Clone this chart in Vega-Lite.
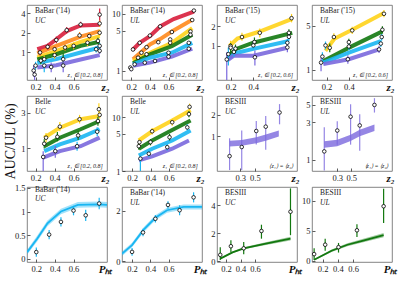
{
"$schema":"https://vega.github.io/schema/vega-lite/v6.json",
"padding":{"left":2,"top":4,"right":0,"bottom":0},
"background":"white",
"config":{
 "view":{"stroke":"#666","strokeWidth":0.8},
 "font":"Liberation Serif",
 "axis":{"grid":false,"domain":false,"tickSize":-3,"tickColor":"#333","tickWidth":0.8,"labelFont":"Liberation Serif","labelFontSize":8.5,"labelColor":"#1a1a1a","labelPadding":5,"labelOverlap":false,"labelFlush":false,"labelBound":false,"format":"~r","titleFont":"Liberation Serif","titleColor":"#111"},
 "axisX":{"titleFontSize":11,"titleFontStyle":"italic","titleFontWeight":"bold","titleAlign":"right","titleX":82,"titleY":1,"titleBaseline":"top"},
 "title":{"font":"Liberation Serif","fontSize":7.5,"fontWeight":"normal","anchor":"start","frame":"group","orient":"top","offset":0,"dx":8,"dy":23,"color":"#222","subtitleFont":"Liberation Serif","subtitleFontSize":7.5,"subtitleFontStyle":"italic","subtitleColor":"#222","subtitlePadding":2}
},
"datasets":{
"band":[
{"p":1,"c":"r","x":0.218,"y":1.12},{"p":1,"c":"r","x":0.327,"y":1.26},{"p":1,"c":"r","x":0.418,"y":1.59},{"p":1,"c":"r","x":0.527,"y":2.12},{"p":1,"c":"r","x":0.673,"y":2.58},{"p":1,"c":"r","x":0.873,"y":2.64},
{"p":1,"c":"o","x":0.218,"y":0.97},{"p":1,"c":"o","x":0.418,"y":1.26},{"p":1,"c":"o","x":0.673,"y":1.74},{"p":1,"c":"o","x":0.873,"y":2.12},
{"p":1,"c":"y","x":0.218,"y":0.84},{"p":1,"c":"y","x":0.418,"y":1.06},{"p":1,"c":"y","x":0.673,"y":1.45},{"p":1,"c":"y","x":0.873,"y":1.78},
{"p":1,"c":"g","x":0.218,"y":0.78},{"p":1,"c":"g","x":0.418,"y":0.94},{"p":1,"c":"g","x":0.673,"y":1.26},{"p":1,"c":"g","x":0.873,"y":1.46},
{"p":1,"c":"b","x":0.218,"y":0.69},{"p":1,"c":"b","x":0.418,"y":0.79},{"p":1,"c":"b","x":0.673,"y":1.0},{"p":1,"c":"b","x":0.873,"y":1.19},
{"p":1,"c":"p","x":0.218,"y":0.59},{"p":1,"c":"p","x":0.418,"y":0.64},{"p":1,"c":"p","x":0.673,"y":0.78},{"p":1,"c":"p","x":0.873,"y":0.91},
{"p":2,"c":"r","x":0.218,"y":2.37},{"p":2,"c":"r","x":0.29,"y":3.1},{"p":2,"c":"r","x":0.4,"y":4.05},{"p":2,"c":"r","x":0.51,"y":6.0},{"p":2,"c":"r","x":0.655,"y":8.1},{"p":2,"c":"r","x":0.873,"y":10.9},
{"p":2,"c":"o","x":0.218,"y":1.59},{"p":2,"c":"o","x":0.4,"y":2.9},{"p":2,"c":"o","x":0.51,"y":3.6},{"p":2,"c":"o","x":0.636,"y":4.9},{"p":2,"c":"o","x":0.855,"y":7.85},
{"p":2,"c":"y","x":0.218,"y":1.49},{"p":2,"c":"y","x":0.4,"y":2.08},{"p":2,"c":"y","x":0.636,"y":3.1},{"p":2,"c":"y","x":0.855,"y":5.6},
{"p":2,"c":"g","x":0.218,"y":1.36},{"p":2,"c":"g","x":0.4,"y":1.95},{"p":2,"c":"g","x":0.636,"y":2.7},{"p":2,"c":"g","x":0.855,"y":4.3},
{"p":2,"c":"b","x":0.218,"y":1.3},{"p":2,"c":"b","x":0.4,"y":1.7},{"p":2,"c":"b","x":0.636,"y":2.08},{"p":2,"c":"b","x":0.855,"y":3.1},
{"p":2,"c":"p","x":0.218,"y":1.22},{"p":2,"c":"p","x":0.4,"y":1.39},{"p":2,"c":"p","x":0.636,"y":1.77},{"p":2,"c":"p","x":0.855,"y":2.44},
{"p":3,"c":"y","x":0.19,"y":1.0},{"p":3,"c":"y","x":0.26,"y":1.3},{"p":3,"c":"y","x":0.45,"y":1.65},{"p":3,"c":"y","x":0.743,"y":2.6},
{"p":3,"c":"g","x":0.171,"y":0.67},{"p":3,"c":"g","x":0.25,"y":0.9},{"p":3,"c":"g","x":0.4,"y":1.12},{"p":3,"c":"g","x":0.743,"y":1.59},
{"p":3,"c":"b","x":0.171,"y":0.63},{"p":3,"c":"b","x":0.25,"y":0.78},{"p":3,"c":"b","x":0.4,"y":0.9},{"p":3,"c":"b","x":0.714,"y":1.19},
{"p":3,"c":"p","x":0.171,"y":0.6},{"p":3,"c":"p","x":0.229,"y":0.71},{"p":3,"c":"p","x":0.4,"y":0.71},{"p":3,"c":"p","x":0.7,"y":0.94},
{"p":4,"c":"y","x":0.19,"y":2.0},{"p":4,"c":"y","x":0.27,"y":3.1},{"p":4,"c":"y","x":0.43,"y":4.3},{"p":4,"c":"y","x":0.714,"y":7.9},
{"p":4,"c":"g","x":0.171,"y":1.38},{"p":4,"c":"g","x":0.429,"y":2.37},{"p":4,"c":"g","x":0.7,"y":4.06},
{"p":4,"c":"b","x":0.171,"y":1.3},{"p":4,"c":"b","x":0.4,"y":1.87},{"p":4,"c":"b","x":0.686,"y":2.84},
{"p":4,"c":"p","x":0.171,"y":1.23},{"p":4,"c":"p","x":0.4,"y":1.47},{"p":4,"c":"p","x":0.671,"y":2.1},
{"p":5,"c":"y","x":0.291,"y":1.39},{"p":5,"c":"y","x":0.455,"y":1.89},{"p":5,"c":"y","x":0.673,"y":2.45},{"p":5,"c":"y","x":0.873,"y":2.7},
{"p":5,"c":"g","x":0.291,"y":1.07},{"p":5,"c":"g","x":0.455,"y":1.39},{"p":5,"c":"g","x":0.673,"y":1.8},{"p":5,"c":"g","x":0.873,"y":2.32},
{"p":5,"c":"b","x":0.291,"y":0.92},{"p":5,"c":"b","x":0.455,"y":1.13},{"p":5,"c":"b","x":0.673,"y":1.39},{"p":5,"c":"b","x":0.873,"y":1.8},
{"p":5,"c":"p","x":0.273,"y":0.75},{"p":5,"c":"p","x":0.455,"y":0.92},{"p":5,"c":"p","x":0.673,"y":1.07},{"p":5,"c":"p","x":0.873,"y":1.39},
{"p":6,"c":"y","x":0.273,"y":3.7},{"p":6,"c":"y","x":0.418,"y":5.5},{"p":6,"c":"y","x":0.636,"y":8.7},{"p":6,"c":"y","x":0.836,"y":13.6},
{"p":6,"c":"g","x":0.273,"y":2.6},{"p":6,"c":"g","x":0.418,"y":3.7},{"p":6,"c":"g","x":0.636,"y":5.8},{"p":6,"c":"g","x":0.836,"y":8.7},
{"p":6,"c":"b","x":0.273,"y":1.95},{"p":6,"c":"b","x":0.418,"y":2.6},{"p":6,"c":"b","x":0.636,"y":3.7},{"p":6,"c":"b","x":0.836,"y":5.7},
{"p":6,"c":"p","x":0.273,"y":1.58},{"p":6,"c":"p","x":0.418,"y":1.87},{"p":6,"c":"p","x":0.636,"y":2.6},{"p":6,"c":"p","x":0.818,"y":3.7}
],
"sband":[
{"p":7,"c":"p","x":0.153,"y":0.78,"lo":0.71,"hi":0.86},{"p":7,"c":"p","x":0.32,"y":0.8,"lo":0.73,"hi":0.88},{"p":7,"c":"p","x":0.52,"y":0.87,"lo":0.79,"hi":0.96},{"p":7,"c":"p","x":0.65,"y":0.95,"lo":0.86,"hi":1.05},{"p":7,"c":"p","x":0.83,"y":1.09,"lo":0.99,"hi":1.2},
{"p":8,"c":"p","x":0.115,"y":1.56,"lo":1.42,"hi":1.72},{"p":8,"c":"p","x":0.3,"y":1.64,"lo":1.49,"hi":1.8},{"p":8,"c":"p","x":0.49,"y":1.9,"lo":1.73,"hi":2.09},{"p":8,"c":"p","x":0.62,"y":2.2,"lo":2.0,"hi":2.42},{"p":8,"c":"p","x":0.83,"y":2.56,"lo":2.33,"hi":2.82},
{"p":9,"c":"b","x":0.102,"y":0.14,"lo":0.09,"hi":0.19},{"p":9,"c":"b","x":0.211,"y":0.43,"lo":0.37,"hi":0.49},{"p":9,"c":"b","x":0.32,"y":0.75,"lo":0.69,"hi":0.81},{"p":9,"c":"b","x":0.465,"y":1.0,"lo":0.94,"hi":1.06},{"p":9,"c":"b","x":0.647,"y":1.14,"lo":1.08,"hi":1.2},{"p":9,"c":"b","x":0.865,"y":1.15,"lo":1.09,"hi":1.21},{"p":9,"c":"b","x":0.96,"y":1.14,"lo":1.08,"hi":1.2},
{"p":10,"c":"b","x":0.091,"y":0.31,"lo":0.22,"hi":0.4},{"p":10,"c":"b","x":0.2,"y":0.65,"lo":0.56,"hi":0.74},{"p":10,"c":"b","x":0.327,"y":1.26,"lo":1.16,"hi":1.36},{"p":10,"c":"b","x":0.455,"y":1.73,"lo":1.63,"hi":1.83},{"p":10,"c":"b","x":0.582,"y":2.03,"lo":1.93,"hi":2.13},{"p":10,"c":"b","x":0.764,"y":2.16,"lo":2.06,"hi":2.26},{"p":10,"c":"b","x":0.965,"y":2.16,"lo":2.06,"hi":2.26},
{"p":11,"c":"g","x":0.12,"y":0.17,"lo":0.13,"hi":0.21},{"p":11,"c":"g","x":0.289,"y":0.62,"lo":0.56,"hi":0.68},{"p":11,"c":"g","x":0.444,"y":0.91,"lo":0.84,"hi":0.98},{"p":11,"c":"g","x":0.733,"y":1.23,"lo":1.13,"hi":1.33},{"p":11,"c":"g","x":1.09,"y":1.6,"lo":1.47,"hi":1.73},
{"p":12,"c":"g","x":0.088,"y":0.2,"lo":0.1,"hi":0.3},{"p":12,"c":"g","x":0.317,"y":1.7,"lo":1.5,"hi":1.9},{"p":12,"c":"g","x":0.525,"y":2.7,"lo":2.45,"hi":2.95},{"p":12,"c":"g","x":0.733,"y":3.4,"lo":3.1,"hi":3.7},{"p":12,"c":"g","x":1.0,"y":4.3,"lo":3.95,"hi":4.65}
],
"pt":[
{"p":1,"c":"r","x":0.247,"y":1.0,"lo":0.9,"hi":1.1},{"p":1,"c":"r","x":0.327,"y":1.22,"lo":1.1,"hi":1.36},{"p":1,"c":"r","x":0.418,"y":1.55,"lo":1.38,"hi":1.75},{"p":1,"c":"r","x":0.527,"y":2.19,"lo":1.95,"hi":2.45},{"p":1,"c":"r","x":0.673,"y":2.67,"lo":2.4,"hi":2.95},{"p":1,"c":"r","x":0.873,"y":3.78,"lo":3.0,"hi":4.7},
{"p":1,"c":"o","x":0.4,"y":1.12,"lo":1.0,"hi":1.26},{"p":1,"c":"o","x":0.51,"y":1.19,"lo":1.06,"hi":1.33},{"p":1,"c":"o","x":0.662,"y":1.82,"lo":1.62,"hi":2.05},{"p":1,"c":"o","x":0.764,"y":1.78,"lo":1.6,"hi":2.0},{"p":1,"c":"o","x":0.873,"y":2.77,"lo":2.45,"hi":3.1},
{"p":1,"c":"y","x":0.291,"y":0.79,"lo":0.7,"hi":0.9},{"p":1,"c":"y","x":0.4,"y":0.91,"lo":0.8,"hi":1.03},{"p":1,"c":"y","x":0.6,"y":1.26,"lo":1.12,"hi":1.42},{"p":1,"c":"y","x":0.745,"y":1.41,"lo":1.25,"hi":1.58},{"p":1,"c":"y","x":0.873,"y":2.0,"lo":1.78,"hi":2.25},
{"p":1,"c":"g","x":0.255,"y":0.75,"lo":0.66,"hi":0.85},{"p":1,"c":"g","x":0.49,"y":0.79,"lo":0.62,"hi":0.96},{"p":1,"c":"g","x":0.855,"y":1.5,"lo":1.34,"hi":1.68},
{"p":1,"c":"b","x":0.2,"y":0.63,"lo":0.55,"hi":0.72},{"p":1,"c":"b","x":0.291,"y":0.63,"lo":0.5,"hi":0.76},{"p":1,"c":"b","x":0.873,"y":1.26,"lo":1.12,"hi":1.4},{"p":1,"c":"b","x":0.836,"y":1.12,"lo":1.0,"hi":1.25},
{"p":1,"c":"p","x":0.18,"y":0.53,"lo":0.43,"hi":0.64},{"p":1,"c":"p","x":0.19,"y":0.46,"lo":0.38,"hi":0.55},{"p":1,"c":"p","x":0.364,"y":0.6,"lo":0.5,"hi":0.7},{"p":1,"c":"p","x":0.49,"y":0.63,"lo":0.5,"hi":0.75},{"p":1,"c":"p","x":0.873,"y":1.06,"lo":0.95,"hi":1.18},
{"p":2,"c":"r","x":0.218,"y":2.37,"lo":2.2,"hi":2.55},{"p":2,"c":"r","x":0.29,"y":3.1,"lo":2.85,"hi":3.35},{"p":2,"c":"r","x":0.4,"y":4.15,"lo":3.85,"hi":4.45},{"p":2,"c":"r","x":0.51,"y":6.0,"lo":5.6,"hi":6.4},{"p":2,"c":"r","x":0.873,"y":11.4,"lo":10.6,"hi":12.2},
{"p":2,"c":"o","x":0.364,"y":2.6,"lo":2.4,"hi":2.8},{"p":2,"c":"o","x":0.49,"y":3.18,"lo":2.95,"hi":3.4},{"p":2,"c":"o","x":0.636,"y":4.8,"lo":4.45,"hi":5.15},{"p":2,"c":"o","x":0.855,"y":7.8,"lo":7.2,"hi":8.4},
{"p":2,"c":"y","x":0.309,"y":2.08,"lo":1.93,"hi":2.23},{"p":2,"c":"y","x":0.618,"y":3.55,"lo":3.3,"hi":3.8},{"p":2,"c":"y","x":0.836,"y":4.9,"lo":4.55,"hi":5.25},
{"p":2,"c":"g","x":0.273,"y":1.7,"lo":1.58,"hi":1.82},{"p":2,"c":"g","x":0.364,"y":1.95,"lo":1.8,"hi":2.1},{"p":2,"c":"g","x":0.618,"y":3.1,"lo":2.88,"hi":3.32},{"p":2,"c":"g","x":0.836,"y":4.3,"lo":4.0,"hi":4.6},
{"p":2,"c":"b","x":0.236,"y":1.3,"lo":1.2,"hi":1.4},{"p":2,"c":"b","x":0.6,"y":2.08,"lo":1.93,"hi":2.23},{"p":2,"c":"b","x":0.818,"y":3.1,"lo":2.88,"hi":3.32},
{"p":2,"c":"p","x":0.189,"y":1.14,"lo":1.05,"hi":1.23},{"p":2,"c":"p","x":0.2,"y":1.07,"lo":0.98,"hi":1.16},{"p":2,"c":"p","x":0.345,"y":1.39,"lo":1.29,"hi":1.49},{"p":2,"c":"p","x":0.455,"y":1.49,"lo":1.38,"hi":1.6},{"p":2,"c":"p","x":0.6,"y":1.77,"lo":1.64,"hi":1.9},{"p":2,"c":"p","x":0.818,"y":2.44,"lo":2.26,"hi":2.62},
{"p":3,"c":"y","x":0.2,"y":1.0,"lo":0.85,"hi":1.2},{"p":3,"c":"y","x":0.3,"y":1.37,"lo":1.2,"hi":1.6},{"p":3,"c":"y","x":0.457,"y":1.59,"lo":1.35,"hi":1.85},{"p":3,"c":"y","x":0.737,"y":2.67,"lo":2.3,"hi":3.1},
{"p":3,"c":"g","x":0.2,"y":0.94,"lo":0.78,"hi":1.1},{"p":3,"c":"g","x":0.243,"y":0.91,"lo":0.78,"hi":1.05},{"p":3,"c":"g","x":0.41,"y":1.15,"lo":0.98,"hi":1.35},{"p":3,"c":"g","x":0.714,"y":1.59,"lo":1.4,"hi":1.8},
{"p":3,"c":"b","x":0.18,"y":0.75,"lo":0.5,"hi":0.95},{"p":3,"c":"b","x":0.229,"y":0.81,"lo":0.68,"hi":0.95},{"p":3,"c":"b","x":0.4,"y":1.02,"lo":0.88,"hi":1.18},{"p":3,"c":"b","x":0.714,"y":1.38,"lo":1.2,"hi":1.55},{"p":3,"c":"b","x":0.7,"y":1.12,"lo":0.98,"hi":1.28},
{"p":3,"c":"p","x":0.166,"y":0.62,"lo":0.3,"hi":0.8},{"p":3,"c":"p","x":0.414,"y":0.67,"lo":0.5,"hi":0.85},{"p":3,"c":"p","x":0.7,"y":0.95,"lo":0.8,"hi":1.1},
{"p":4,"c":"y","x":0.266,"y":3.3,"lo":2.9,"hi":3.8},{"p":4,"c":"y","x":0.43,"y":4.2,"lo":3.7,"hi":4.8},{"p":4,"c":"y","x":0.714,"y":7.7,"lo":6.8,"hi":8.8},
{"p":4,"c":"g","x":0.229,"y":2.23,"lo":1.9,"hi":2.6},{"p":4,"c":"g","x":0.4,"y":2.74,"lo":2.4,"hi":3.1},{"p":4,"c":"g","x":0.7,"y":4.3,"lo":3.8,"hi":4.9},
{"p":4,"c":"b","x":0.163,"y":1.62,"lo":1.35,"hi":1.9},{"p":4,"c":"b","x":0.191,"y":2.43,"lo":2.1,"hi":2.8},{"p":4,"c":"b","x":0.4,"y":2.34,"lo":2.05,"hi":2.65},{"p":4,"c":"b","x":0.686,"y":2.6,"lo":2.3,"hi":2.95},{"p":4,"c":"b","x":0.694,"y":3.3,"lo":2.9,"hi":3.7},
{"p":4,"c":"p","x":0.151,"y":1.3,"lo":0.95,"hi":1.55},{"p":4,"c":"p","x":0.391,"y":1.47,"lo":1.25,"hi":1.7},{"p":4,"c":"p","x":0.67,"y":2.1,"lo":1.85,"hi":2.4},
{"p":5,"c":"y","x":0.31,"y":1.39,"lo":1.2,"hi":1.6},{"p":5,"c":"y","x":0.455,"y":1.95,"lo":1.7,"hi":2.25},{"p":5,"c":"y","x":0.662,"y":2.45,"lo":2.15,"hi":2.8},{"p":5,"c":"y","x":0.865,"y":3.33,"lo":2.7,"hi":4.0},{"p":5,"c":"y","x":0.873,"y":2.8,"lo":2.5,"hi":3.1},
{"p":5,"c":"g","x":0.291,"y":1.155,"lo":1.0,"hi":1.33},{"p":5,"c":"g","x":0.429,"y":1.43,"lo":1.25,"hi":1.65},{"p":5,"c":"g","x":0.647,"y":1.49,"lo":1.3,"hi":1.72},{"p":5,"c":"g","x":0.855,"y":2.32,"lo":2.0,"hi":2.65},
{"p":5,"c":"b","x":0.636,"y":1.07,"lo":0.93,"hi":1.23},{"p":5,"c":"b","x":0.847,"y":1.67,"lo":1.45,"hi":1.92},
{"p":5,"c":"p","x":0.28,"y":0.77,"lo":0.5,"hi":0.92},{"p":5,"c":"p","x":0.407,"y":0.92,"lo":0.75,"hi":1.08},
{"p":6,"c":"y","x":0.28,"y":3.45,"lo":3.0,"hi":4.0},{"p":6,"c":"y","x":0.418,"y":5.5,"lo":4.8,"hi":6.3},{"p":6,"c":"y","x":0.636,"y":8.1,"lo":7.0,"hi":9.4},{"p":6,"c":"y","x":0.825,"y":15.7,"lo":13.5,"hi":18.0},
{"p":6,"c":"g","x":0.273,"y":2.9,"lo":2.5,"hi":3.3},{"p":6,"c":"g","x":0.4,"y":3.45,"lo":3.0,"hi":3.95},{"p":6,"c":"g","x":0.607,"y":4.26,"lo":3.7,"hi":4.9},{"p":6,"c":"g","x":0.818,"y":11.5,"lo":10.0,"hi":13.2},
{"p":6,"c":"b","x":0.29,"y":1.7,"lo":1.0,"hi":2.0},{"p":6,"c":"b","x":0.382,"y":2.1,"lo":1.8,"hi":2.4},{"p":6,"c":"b","x":0.582,"y":2.78,"lo":2.4,"hi":3.2},{"p":6,"c":"b","x":0.8,"y":6.5,"lo":5.7,"hi":7.4},
{"p":7,"c":"p","x":0.153,"y":0.52,"lo":0.33,"hi":0.93},{"p":7,"c":"p","x":0.32,"y":0.7,"lo":0.33,"hi":1.2},{"p":7,"c":"p","x":0.52,"y":1.18,"lo":0.76,"hi":1.64},{"p":7,"c":"p","x":0.65,"y":1.36,"lo":0.64,"hi":1.93},{"p":7,"c":"p","x":0.84,"y":2.16,"lo":1.47,"hi":2.84},
{"p":8,"c":"p","x":0.115,"y":1.28,"lo":0.73,"hi":2.6},{"p":8,"c":"p","x":0.3,"y":2.36,"lo":1.56,"hi":3.1},{"p":8,"c":"p","x":0.49,"y":3.54,"lo":1.56,"hi":5.1},{"p":8,"c":"p","x":0.62,"y":2.74,"lo":1.3,"hi":3.8},{"p":8,"c":"p","x":0.83,"y":5.0,"lo":4.0,"hi":6.1},
{"p":9,"c":"b","x":0.2,"y":0.14,"lo":0.04,"hi":0.24},{"p":9,"c":"b","x":0.338,"y":0.51,"lo":0.41,"hi":0.61},{"p":9,"c":"b","x":0.465,"y":0.78,"lo":0.68,"hi":0.88},{"p":9,"c":"b","x":0.6,"y":1.02,"lo":0.92,"hi":1.12},{"p":9,"c":"b","x":0.731,"y":0.92,"lo":0.8,"hi":1.04},{"p":9,"c":"b","x":0.876,"y":1.17,"lo":1.05,"hi":1.29},
{"p":10,"c":"b","x":0.2,"y":0.38,"lo":0.23,"hi":0.53},{"p":10,"c":"b","x":0.32,"y":1.15,"lo":1.0,"hi":1.3},{"p":10,"c":"b","x":0.455,"y":1.69,"lo":1.54,"hi":1.84},{"p":10,"c":"b","x":0.593,"y":2.24,"lo":2.09,"hi":2.39},{"p":10,"c":"b","x":0.72,"y":2.03,"lo":1.83,"hi":2.23},{"p":10,"c":"b","x":0.873,"y":2.54,"lo":2.34,"hi":2.74},
{"p":11,"c":"g","x":0.12,"y":0.44,"lo":0.07,"hi":0.99},{"p":11,"c":"g","x":0.267,"y":1.06,"lo":0.62,"hi":1.48},{"p":11,"c":"g","x":0.444,"y":0.91,"lo":0.49,"hi":1.36},{"p":11,"c":"g","x":0.689,"y":2.15,"lo":1.6,"hi":2.6},{"p":11,"c":"g","x":1.09,"y":3.53,"lo":1.85,"hi":5.2},
{"p":12,"c":"g","x":0.088,"y":1.14,"lo":0.17,"hi":2.1},{"p":12,"c":"g","x":0.233,"y":2.7,"lo":1.7,"hi":3.7},{"p":12,"c":"g","x":0.408,"y":2.3,"lo":1.4,"hi":3.0},{"p":12,"c":"g","x":0.65,"y":5.1,"lo":4.0,"hi":6.1},{"p":12,"c":"g","x":1.0,"y":9.1,"lo":6.3,"hi":12.0}
]
},
"columns":4,
"bounds":"flush",
"spacing":{"row":16,"column":15},
"concat":[
{"width":80,"height":75,"title":{"text":"BaBar ('14)","subtitle":"UC"},"layer":[
 {"data":{"name":"band"},"transform":[{"filter":"datum.p==1"}],"mark":{"type":"line","strokeWidth":4,"opacity":0.9,"clip":true},
  "encoding":{"x":{"field":"x","type":"quantitative","scale":{"domain":[0.11,0.95],"nice":false},"axis":{"values":[0.2,0.4,0.6],"tickCount":20,"title":"z₂"}},
   "y":{"field":"y","type":"quantitative","scale":{"type":"log","domain":[0.38,5.3],"nice":false},"axis":{"values":[1,2,4],"tickCount":20,"title":null}},
   "color":{"field":"c","type":"nominal","scale":{"domain":["r","o","y","g","b","p"],"range":["#d81e3c","#ff8a1c","#ffd319","#12780f","#19b6f2","#7a68dd"]},"legend":null}}},
 {"data":{"name":"pt"},"transform":[{"filter":"datum.p==1"}],"mark":{"type":"rule","strokeWidth":1.2,"clip":true},
  "encoding":{"x":{"field":"x","type":"quantitative"},"y":{"field":"lo","type":"quantitative"},"y2":{"field":"hi"},"color":{"field":"c","type":"nominal","legend":null}}},
 {"data":{"name":"pt"},"transform":[{"filter":"datum.p==1"}],"mark":{"type":"point","shape":"circle","filled":true,"fill":"white","stroke":"black","strokeWidth":0.8,"size":13,"opacity":1,"clip":true},
  "encoding":{"x":{"field":"x","type":"quantitative"},"y":{"field":"y","type":"quantitative"}}},
 {"data":{"values":[{"t":"z₁ ∈ [0.2, 0.8]"}]},"mark":{"type":"text","align":"right","baseline":"bottom","fontSize":6,"fontStyle":"italic","font":"Liberation Serif","color":"#222"},
  "encoding":{"x":{"datum":0.905,"type":"quantitative"},"y":{"datum":0.405,"type":"quantitative"},"text":{"field":"t"}}}
]},
{"width":80,"height":75,"title":{"text":"BaBar ('14)","subtitle":"UL"},"layer":[
 {"data":{"name":"band"},"transform":[{"filter":"datum.p==2"}],"mark":{"type":"line","strokeWidth":4,"opacity":0.9,"clip":true},
  "encoding":{"x":{"field":"x","type":"quantitative","scale":{"domain":[0.1,0.96],"nice":false},"axis":{"values":[0.2,0.4,0.6],"tickCount":20,"title":"z₂"}},
   "y":{"field":"y","type":"quantitative","scale":{"type":"log","domain":[0.69,14.3],"nice":false},"axis":{"values":[1,5,10],"tickCount":20,"title":null}},
   "color":{"field":"c","type":"nominal","scale":{"domain":["r","o","y","g","b","p"],"range":["#d81e3c","#ff8a1c","#ffd319","#12780f","#19b6f2","#7a68dd"]},"legend":null}}},
 {"data":{"name":"pt"},"transform":[{"filter":"datum.p==2"}],"mark":{"type":"rule","strokeWidth":1.2,"clip":true},
  "encoding":{"x":{"field":"x","type":"quantitative"},"y":{"field":"lo","type":"quantitative"},"y2":{"field":"hi"},"color":{"field":"c","type":"nominal","legend":null}}},
 {"data":{"name":"pt"},"transform":[{"filter":"datum.p==2"}],"mark":{"type":"point","shape":"circle","filled":true,"fill":"white","stroke":"black","strokeWidth":0.8,"size":13,"opacity":1,"clip":true},
  "encoding":{"x":{"field":"x","type":"quantitative"},"y":{"field":"y","type":"quantitative"}}},
 {"data":{"values":[{"t":"z₁ ∈ [0.2, 0.8]"}]},"mark":{"type":"text","align":"right","baseline":"bottom","fontSize":6,"fontStyle":"italic","font":"Liberation Serif","color":"#222"},
  "encoding":{"x":{"datum":0.915,"type":"quantitative"},"y":{"datum":0.745,"type":"quantitative"},"text":{"field":"t"}}}
]},
{"width":80,"height":75,"title":{"text":"BaBar ('15)","subtitle":"UC"},"layer":[
 {"data":{"name":"band"},"transform":[{"filter":"datum.p==3"}],"mark":{"type":"line","strokeWidth":4,"opacity":0.9,"clip":true},
  "encoding":{"x":{"field":"x","type":"quantitative","scale":{"domain":[0.08,0.785],"nice":false},"axis":{"values":[0.2,0.4],"tickCount":20,"title":"z₂"}},
   "y":{"field":"y","type":"quantitative","scale":{"type":"log","domain":[0.3,4.25],"nice":false},"axis":{"values":[1,2],"tickCount":20,"title":null}},
   "color":{"field":"c","type":"nominal","scale":{"domain":["r","o","y","g","b","p"],"range":["#d81e3c","#ff8a1c","#ffd319","#12780f","#19b6f2","#7a68dd"]},"legend":null}}},
 {"data":{"name":"pt"},"transform":[{"filter":"datum.p==3"}],"mark":{"type":"rule","strokeWidth":1.2,"clip":true},
  "encoding":{"x":{"field":"x","type":"quantitative"},"y":{"field":"lo","type":"quantitative"},"y2":{"field":"hi"},"color":{"field":"c","type":"nominal","legend":null}}},
 {"data":{"name":"pt"},"transform":[{"filter":"datum.p==3"}],"mark":{"type":"point","shape":"circle","filled":true,"fill":"white","stroke":"black","strokeWidth":0.8,"size":13,"opacity":1,"clip":true},
  "encoding":{"x":{"field":"x","type":"quantitative"},"y":{"field":"y","type":"quantitative"}}},
 {"data":{"values":[{"t":"z₁ ∈ [0.2, 0.6]"}]},"mark":{"type":"text","align":"right","baseline":"bottom","fontSize":6,"fontStyle":"italic","font":"Liberation Serif","color":"#222"},
  "encoding":{"x":{"datum":0.75,"type":"quantitative"},"y":{"datum":0.32,"type":"quantitative"},"text":{"field":"t"}}}
]},
{"width":80,"height":75,"title":{"text":"BaBar ('15)","subtitle":"UL"},"layer":[
 {"data":{"name":"band"},"transform":[{"filter":"datum.p==4"}],"mark":{"type":"line","strokeWidth":4,"opacity":0.9,"clip":true},
  "encoding":{"x":{"field":"x","type":"quantitative","scale":{"domain":[0.07,0.786],"nice":false},"axis":{"values":[0.2,0.4],"tickCount":20,"title":"z₂"}},
   "y":{"field":"y","type":"quantitative","scale":{"type":"log","domain":[0.69,10.6],"nice":false},"axis":{"values":[1,5],"tickCount":20,"title":null}},
   "color":{"field":"c","type":"nominal","scale":{"domain":["r","o","y","g","b","p"],"range":["#d81e3c","#ff8a1c","#ffd319","#12780f","#19b6f2","#7a68dd"]},"legend":null}}},
 {"data":{"name":"pt"},"transform":[{"filter":"datum.p==4"}],"mark":{"type":"rule","strokeWidth":1.2,"clip":true},
  "encoding":{"x":{"field":"x","type":"quantitative"},"y":{"field":"lo","type":"quantitative"},"y2":{"field":"hi"},"color":{"field":"c","type":"nominal","legend":null}}},
 {"data":{"name":"pt"},"transform":[{"filter":"datum.p==4"}],"mark":{"type":"point","shape":"circle","filled":true,"fill":"white","stroke":"black","strokeWidth":0.8,"size":13,"opacity":1,"clip":true},
  "encoding":{"x":{"field":"x","type":"quantitative"},"y":{"field":"y","type":"quantitative"}}},
 {"data":{"values":[{"t":"z₁ ∈ [0.2, 0.6]"}]},"mark":{"type":"text","align":"right","baseline":"bottom","fontSize":6,"fontStyle":"italic","font":"Liberation Serif","color":"#222"},
  "encoding":{"x":{"datum":0.75,"type":"quantitative"},"y":{"datum":0.74,"type":"quantitative"},"text":{"field":"t"}}}
]},
{"width":80,"height":75,"title":{"text":"Belle","subtitle":"UC"},"layer":[
 {"data":{"name":"band"},"transform":[{"filter":"datum.p==5"}],"mark":{"type":"line","strokeWidth":4,"opacity":0.9,"clip":true},
  "encoding":{"x":{"field":"x","type":"quantitative","scale":{"domain":[0.11,0.95],"nice":false},"axis":{"values":[0.2,0.4,0.6],"tickCount":20,"title":"z₂"}},
   "y":{"field":"y","type":"quantitative","scale":{"type":"log","domain":[0.5,5],"nice":false},"axis":{"values":[1,3],"tickCount":20,"title":"AUC/UL (%)","titleX":-17,"titleY":45,"titleAngle":-90,"titleAlign":"center","titleBaseline":"middle","titleFontSize":14,"titleFontWeight":"normal"}},
   "color":{"field":"c","type":"nominal","scale":{"domain":["r","o","y","g","b","p"],"range":["#d81e3c","#ff8a1c","#ffd319","#12780f","#19b6f2","#7a68dd"]},"legend":null}}},
 {"data":{"name":"pt"},"transform":[{"filter":"datum.p==5"}],"mark":{"type":"rule","strokeWidth":1.2,"clip":true},
  "encoding":{"x":{"field":"x","type":"quantitative"},"y":{"field":"lo","type":"quantitative"},"y2":{"field":"hi"},"color":{"field":"c","type":"nominal","legend":null}}},
 {"data":{"name":"pt"},"transform":[{"filter":"datum.p==5"}],"mark":{"type":"point","shape":"circle","filled":true,"fill":"white","stroke":"black","strokeWidth":0.8,"size":13,"opacity":1,"clip":true},
  "encoding":{"x":{"field":"x","type":"quantitative"},"y":{"field":"y","type":"quantitative"}}},
 {"data":{"values":[{"t":"z₁ ∈ [0.2, 0.8]"}]},"mark":{"type":"text","align":"right","baseline":"bottom","fontSize":6,"fontStyle":"italic","font":"Liberation Serif","color":"#222"},
  "encoding":{"x":{"datum":0.905,"type":"quantitative"},"y":{"datum":0.53,"type":"quantitative"},"text":{"field":"t"}}}
]},
{"width":80,"height":75,"title":{"text":"Belle","subtitle":"UL"},"layer":[
 {"data":{"name":"band"},"transform":[{"filter":"datum.p==6"}],"mark":{"type":"line","strokeWidth":4,"opacity":0.9,"clip":true},
  "encoding":{"x":{"field":"x","type":"quantitative","scale":{"domain":[0.09,0.96],"nice":false},"axis":{"values":[0.2,0.4,0.6],"tickCount":20,"title":"z₂"}},
   "y":{"field":"y","type":"quantitative","scale":{"type":"log","domain":[1,25],"nice":false},"axis":{"values":[1,5,10],"tickCount":20,"title":null}},
   "color":{"field":"c","type":"nominal","scale":{"domain":["r","o","y","g","b","p"],"range":["#d81e3c","#ff8a1c","#ffd319","#12780f","#19b6f2","#7a68dd"]},"legend":null}}},
 {"data":{"name":"pt"},"transform":[{"filter":"datum.p==6"}],"mark":{"type":"rule","strokeWidth":1.2,"clip":true},
  "encoding":{"x":{"field":"x","type":"quantitative"},"y":{"field":"lo","type":"quantitative"},"y2":{"field":"hi"},"color":{"field":"c","type":"nominal","legend":null}}},
 {"data":{"name":"pt"},"transform":[{"filter":"datum.p==6"}],"mark":{"type":"point","shape":"circle","filled":true,"fill":"white","stroke":"black","strokeWidth":0.8,"size":13,"opacity":1,"clip":true},
  "encoding":{"x":{"field":"x","type":"quantitative"},"y":{"field":"y","type":"quantitative"}}},
 {"data":{"values":[{"t":"z₁ ∈ [0.2, 0.8]"}]},"mark":{"type":"text","align":"right","baseline":"bottom","fontSize":6,"fontStyle":"italic","font":"Liberation Serif","color":"#222"},
  "encoding":{"x":{"datum":0.915,"type":"quantitative"},"y":{"datum":1.09,"type":"quantitative"},"text":{"field":"t"}}}
]},
{"width":80,"height":75,"title":{"text":"BESIII","subtitle":"UC"},"layer":[
 {"data":{"name":"sband"},"transform":[{"filter":"datum.p==7"}],"mark":{"type":"area","opacity":0.8,"clip":true},
  "encoding":{"x":{"field":"x","type":"quantitative","scale":{"domain":[-0.02,1.08],"nice":false},"axis":{"values":[0.3,0.5],"tickCount":20,"title":"z₂"}},
   "y":{"field":"lo","type":"quantitative","scale":{"type":"log","domain":[0.32,3.7],"nice":false},"axis":{"values":[1,2],"tickCount":20,"title":null}},
   "y2":{"field":"hi"},
   "color":{"field":"c","type":"nominal","scale":{"domain":["r","o","y","g","b","p"],"range":["#d81e3c","#ff8a1c","#ffd319","#12780f","#19b6f2","#7a68dd"]},"legend":null}}},
 {"data":{"name":"pt"},"transform":[{"filter":"datum.p==7"}],"mark":{"type":"rule","strokeWidth":1.2,"opacity":0.8,"clip":true},
  "encoding":{"x":{"field":"x","type":"quantitative"},"y":{"field":"lo","type":"quantitative"},"y2":{"field":"hi"},"color":{"field":"c","type":"nominal","legend":null}}},
 {"data":{"name":"pt"},"transform":[{"filter":"datum.p==7"}],"mark":{"type":"point","shape":"circle","filled":true,"fill":"white","stroke":"black","strokeWidth":0.8,"size":13,"opacity":1,"clip":true},
  "encoding":{"x":{"field":"x","type":"quantitative"},"y":{"field":"y","type":"quantitative"}}},
 {"data":{"values":[{"t":"⟨z₁⟩ = ⟨z₂⟩"}]},"mark":{"type":"text","align":"right","baseline":"bottom","fontSize":6,"fontStyle":"italic","font":"Liberation Serif","color":"#222"},
  "encoding":{"x":{"datum":1.03,"type":"quantitative"},"y":{"datum":0.34,"type":"quantitative"},"text":{"field":"t"}}}
]},
{"width":80,"height":75,"title":{"text":"BESIII","subtitle":"UL"},"layer":[
 {"data":{"name":"sband"},"transform":[{"filter":"datum.p==8"}],"mark":{"type":"area","opacity":0.8,"clip":true},
  "encoding":{"x":{"field":"x","type":"quantitative","scale":{"domain":[-0.06,1.08],"nice":false},"axis":{"values":[0.3,0.5],"tickCount":20,"title":"z₂"}},
   "y":{"field":"lo","type":"quantitative","scale":{"type":"log","domain":[0.72,6.5],"nice":false},"axis":{"values":[1,3,5],"tickCount":20,"title":null}},
   "y2":{"field":"hi"},
   "color":{"field":"c","type":"nominal","scale":{"domain":["r","o","y","g","b","p"],"range":["#d81e3c","#ff8a1c","#ffd319","#12780f","#19b6f2","#7a68dd"]},"legend":null}}},
 {"data":{"name":"pt"},"transform":[{"filter":"datum.p==8"}],"mark":{"type":"rule","strokeWidth":1.2,"opacity":0.8,"clip":true},
  "encoding":{"x":{"field":"x","type":"quantitative"},"y":{"field":"lo","type":"quantitative"},"y2":{"field":"hi"},"color":{"field":"c","type":"nominal","legend":null}}},
 {"data":{"name":"pt"},"transform":[{"filter":"datum.p==8"}],"mark":{"type":"point","shape":"circle","filled":true,"fill":"white","stroke":"black","strokeWidth":0.8,"size":13,"opacity":1,"clip":true},
  "encoding":{"x":{"field":"x","type":"quantitative"},"y":{"field":"y","type":"quantitative"}}},
 {"data":{"values":[{"t":"⟨z₁⟩ = ⟨z₂⟩"}]},"mark":{"type":"text","align":"right","baseline":"bottom","fontSize":6,"fontStyle":"italic","font":"Liberation Serif","color":"#222"},
  "encoding":{"x":{"datum":1.03,"type":"quantitative"},"y":{"datum":0.77,"type":"quantitative"},"text":{"field":"t"}}}
]},
{"width":80,"height":75,"title":{"text":"BaBar ('14)","subtitle":"UC"},"layer":[
 {"data":{"name":"sband"},"transform":[{"filter":"datum.p==9"}],"mark":{"type":"area","opacity":0.4,"clip":true},
  "encoding":{"x":{"field":"x","type":"quantitative","scale":{"domain":[0.1,0.96],"nice":false},"axis":{"values":[0.2,0.4,0.6],"tickCount":20,"title":"Pₕₜ","titleX":85}},
   "y":{"field":"lo","type":"quantitative","scale":{"domain":[-0.07,1.52],"nice":false},"axis":{"values":[0,0.5,1,1.5],"tickCount":20,"title":null}},
   "y2":{"field":"hi"},
   "color":{"field":"c","type":"nominal","scale":{"domain":["r","o","y","g","b","p"],"range":["#d81e3c","#ff8a1c","#ffd319","#12780f","#19b6f2","#7a68dd"]},"legend":null}}},
 {"data":{"name":"sband"},"transform":[{"filter":"datum.p==9"}],"mark":{"type":"line","strokeWidth":1.8,"clip":true},
  "encoding":{"x":{"field":"x","type":"quantitative"},"y":{"field":"y","type":"quantitative"},"color":{"field":"c","type":"nominal","legend":null}}},
 {"data":{"name":"pt"},"transform":[{"filter":"datum.p==9"}],"mark":{"type":"rule","strokeWidth":1.2,"clip":true},
  "encoding":{"x":{"field":"x","type":"quantitative"},"y":{"field":"lo","type":"quantitative"},"y2":{"field":"hi"},"color":{"field":"c","type":"nominal","legend":null}}},
 {"data":{"name":"pt"},"transform":[{"filter":"datum.p==9"}],"mark":{"type":"point","shape":"circle","filled":true,"fill":"white","stroke":"black","strokeWidth":0.8,"size":13,"opacity":1,"clip":true},
  "encoding":{"x":{"field":"x","type":"quantitative"},"y":{"field":"y","type":"quantitative"}}}
]},
{"width":80,"height":75,"title":{"text":"BaBar ('14)","subtitle":"UL"},"layer":[
 {"data":{"name":"sband"},"transform":[{"filter":"datum.p==10"}],"mark":{"type":"area","opacity":0.4,"clip":true},
  "encoding":{"x":{"field":"x","type":"quantitative","scale":{"domain":[0.09,0.965],"nice":false},"axis":{"values":[0.2,0.4,0.6],"tickCount":20,"title":"Pₕₜ","titleX":85}},
   "y":{"field":"lo","type":"quantitative","scale":{"domain":[-0.02,2.95],"nice":false},"axis":{"values":[0,2],"tickCount":20,"title":null}},
   "y2":{"field":"hi"},
   "color":{"field":"c","type":"nominal","scale":{"domain":["r","o","y","g","b","p"],"range":["#d81e3c","#ff8a1c","#ffd319","#12780f","#19b6f2","#7a68dd"]},"legend":null}}},
 {"data":{"name":"sband"},"transform":[{"filter":"datum.p==10"}],"mark":{"type":"line","strokeWidth":1.8,"clip":true},
  "encoding":{"x":{"field":"x","type":"quantitative"},"y":{"field":"y","type":"quantitative"},"color":{"field":"c","type":"nominal","legend":null}}},
 {"data":{"name":"pt"},"transform":[{"filter":"datum.p==10"}],"mark":{"type":"rule","strokeWidth":1.2,"clip":true},
  "encoding":{"x":{"field":"x","type":"quantitative"},"y":{"field":"lo","type":"quantitative"},"y2":{"field":"hi"},"color":{"field":"c","type":"nominal","legend":null}}},
 {"data":{"name":"pt"},"transform":[{"filter":"datum.p==10"}],"mark":{"type":"point","shape":"circle","filled":true,"fill":"white","stroke":"black","strokeWidth":0.8,"size":13,"opacity":1,"clip":true},
  "encoding":{"x":{"field":"x","type":"quantitative"},"y":{"field":"y","type":"quantitative"}}}
]},
{"width":80,"height":75,"title":{"text":"BESIII","subtitle":"UC"},"layer":[
 {"data":{"name":"sband"},"transform":[{"filter":"datum.p==11"}],"mark":{"type":"area","opacity":0.4,"clip":true},
  "encoding":{"x":{"field":"x","type":"quantitative","scale":{"domain":[0.075,1.18],"nice":false},"axis":{"values":[0.2,0.4,0.6],"tickCount":20,"title":"Pₕₜ","titleX":85}},
   "y":{"field":"lo","type":"quantitative","scale":{"domain":[-0.07,5.3],"nice":false},"axis":{"values":[0,2,4],"tickCount":20,"title":null}},
   "y2":{"field":"hi"},
   "color":{"field":"c","type":"nominal","scale":{"domain":["r","o","y","g","b","p"],"range":["#d81e3c","#ff8a1c","#ffd319","#12780f","#19b6f2","#7a68dd"]},"legend":null}}},
 {"data":{"name":"sband"},"transform":[{"filter":"datum.p==11"}],"mark":{"type":"line","strokeWidth":1.8,"clip":true},
  "encoding":{"x":{"field":"x","type":"quantitative"},"y":{"field":"y","type":"quantitative"},"color":{"field":"c","type":"nominal","legend":null}}},
 {"data":{"name":"pt"},"transform":[{"filter":"datum.p==11"}],"mark":{"type":"rule","strokeWidth":1.2,"clip":true},
  "encoding":{"x":{"field":"x","type":"quantitative"},"y":{"field":"lo","type":"quantitative"},"y2":{"field":"hi"},"color":{"field":"c","type":"nominal","legend":null}}},
 {"data":{"name":"pt"},"transform":[{"filter":"datum.p==11"}],"mark":{"type":"point","shape":"circle","filled":true,"fill":"white","stroke":"black","strokeWidth":0.8,"size":13,"opacity":1,"clip":true},
  "encoding":{"x":{"field":"x","type":"quantitative"},"y":{"field":"y","type":"quantitative"}}}
]},
{"width":80,"height":75,"title":{"text":"BESIII","subtitle":"UL"},"layer":[
 {"data":{"name":"sband"},"transform":[{"filter":"datum.p==12"}],"mark":{"type":"area","opacity":0.4,"clip":true},
  "encoding":{"x":{"field":"x","type":"quantitative","scale":{"domain":[0.06,1.11],"nice":false},"axis":{"values":[0.2,0.4,0.6],"tickCount":20,"title":"Pₕₜ","titleX":85}},
   "y":{"field":"lo","type":"quantitative","scale":{"domain":[-0.17,12.3],"nice":false},"axis":{"values":[0,5,10],"tickCount":20,"title":null}},
   "y2":{"field":"hi"},
   "color":{"field":"c","type":"nominal","scale":{"domain":["r","o","y","g","b","p"],"range":["#d81e3c","#ff8a1c","#ffd319","#12780f","#19b6f2","#7a68dd"]},"legend":null}}},
 {"data":{"name":"sband"},"transform":[{"filter":"datum.p==12"}],"mark":{"type":"line","strokeWidth":1.8,"clip":true},
  "encoding":{"x":{"field":"x","type":"quantitative"},"y":{"field":"y","type":"quantitative"},"color":{"field":"c","type":"nominal","legend":null}}},
 {"data":{"name":"pt"},"transform":[{"filter":"datum.p==12"}],"mark":{"type":"rule","strokeWidth":1.2,"clip":true},
  "encoding":{"x":{"field":"x","type":"quantitative"},"y":{"field":"lo","type":"quantitative"},"y2":{"field":"hi"},"color":{"field":"c","type":"nominal","legend":null}}},
 {"data":{"name":"pt"},"transform":[{"filter":"datum.p==12"}],"mark":{"type":"point","shape":"circle","filled":true,"fill":"white","stroke":"black","strokeWidth":0.8,"size":13,"opacity":1,"clip":true},
  "encoding":{"x":{"field":"x","type":"quantitative"},"y":{"field":"y","type":"quantitative"}}}
]}
]
}
